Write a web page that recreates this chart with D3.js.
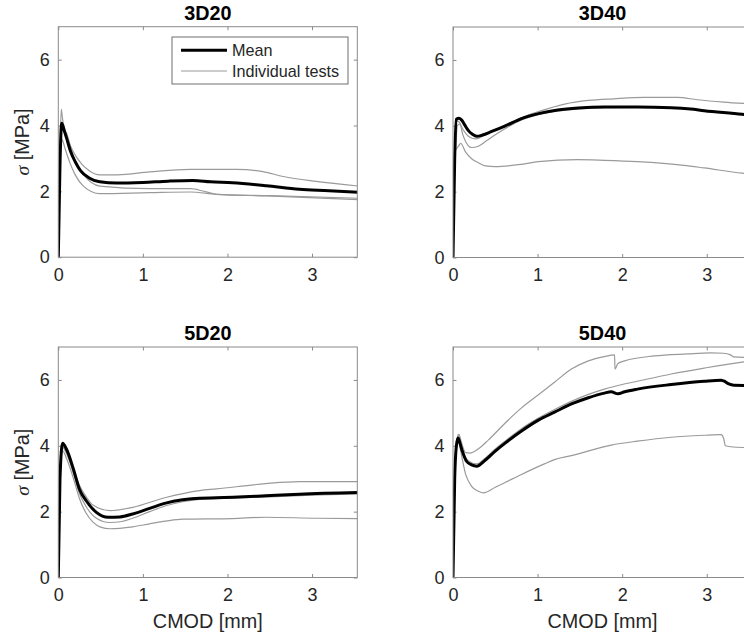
<!DOCTYPE html>
<html>
<head>
<meta charset="utf-8">
<script src="https://cdn.jsdelivr.net/npm/d3@7"></script>
<style>
  html, body { margin: 0; padding: 0; background: #fff; }
  svg { display: block; }
</style>
</head>
<body>
<script>
// ---------------- DATA ----------------
const PANEL_TITLES = ['3D20', '3D40', '5D20', '5D40'];
const X_TICKS = [0, 1, 2, 3];
const Y_TICKS = [0, 2, 4, 6];
const X_DOMAIN = [0, 3.535];
const Y_DOMAIN = [0, 7];
const LEGEND_LABELS = ['Mean', 'Individual tests'];
const X_LABEL = 'CMOD [mm]';
const Y_LABEL_SYMBOL = 'σ';
const Y_LABEL_UNIT = ' [MPa]';

// 3D20  [CMOD mm, sigma MPa]
const mean3D20 = [[0,0],[0.02,2.8],[0.04,4.07],[0.07,3.85],[0.1,3.6],[0.14,3.25],[0.2,2.9],[0.26,2.64],[0.37,2.4],[0.49,2.29],[0.69,2.25],[1.0,2.27],[1.3,2.31],[1.59,2.33],[1.8,2.29],[2.06,2.26],[2.46,2.17],[2.85,2.06],[3.2,2.02],[3.55,1.97]];
const test3D20a = [[0,0],[0.02,3.2],[0.035,4.5],[0.05,4.2],[0.08,3.85],[0.14,3.4],[0.2,3.1],[0.28,2.82],[0.37,2.62],[0.49,2.5],[0.7,2.5],[1.08,2.59],[1.56,2.67],[2.11,2.67],[2.42,2.6],[2.66,2.45],[3.05,2.3],[3.55,2.16]];
const test3D20b = [[0,0],[0.02,3.0],[0.045,3.9],[0.07,3.85],[0.1,3.75],[0.15,3.3],[0.2,2.9],[0.3,2.5],[0.49,2.16],[1.08,2.08],[1.56,2.08],[1.71,2.01],[1.87,1.91],[2.46,1.86],[3.55,1.75]];
const test3D20c = [[0,0],[0.02,3.0],[0.03,3.6],[0.05,3.55],[0.08,3.3],[0.14,2.85],[0.2,2.5],[0.3,2.15],[0.49,1.93],[1.08,1.96],[1.56,1.98],[1.87,1.91],[2.5,1.87],[3.55,1.79]];

// 3D40
const mean3D40 = [[0,0],[0.02,3.0],[0.04,4.2],[0.07,4.23],[0.1,4.18],[0.14,4.02],[0.18,3.86],[0.23,3.74],[0.28,3.68],[0.35,3.72],[0.45,3.82],[0.62,4.0],[0.81,4.22],[1.01,4.37],[1.24,4.48],[1.48,4.54],[1.79,4.57],[2.18,4.57],[2.58,4.55],[2.81,4.51],[2.97,4.46],[3.42,4.35],[3.55,4.31]];
const test3D40a = [[0,0],[0.02,3.0],[0.04,4.15],[0.07,4.12],[0.12,3.88],[0.2,3.65],[0.27,3.6],[0.4,3.76],[0.6,4.0],[0.81,4.25],[1.01,4.43],[1.32,4.66],[1.6,4.77],[1.9,4.82],[2.26,4.86],[2.65,4.86],[2.89,4.79],[3.2,4.72],[3.55,4.66]];
const test3D40b = [[0,0],[0.015,3.2],[0.03,3.3],[0.05,4.0],[0.08,4.05],[0.12,3.7],[0.18,3.4],[0.22,3.34],[0.3,3.38],[0.4,3.55],[0.5,3.73],[0.62,3.92],[0.81,4.18],[1.01,4.34],[1.24,4.45],[1.48,4.51],[1.79,4.55],[2.18,4.56],[2.58,4.54],[2.81,4.5],[2.97,4.45],[3.42,4.34],[3.55,4.3]];
const test3D40c = [[0,0],[0.02,3.2],[0.04,3.3],[0.07,3.4],[0.09,3.47],[0.15,3.2],[0.22,3.0],[0.3,2.88],[0.38,2.78],[0.5,2.76],[0.81,2.83],[1.01,2.91],[1.47,2.97],[1.79,2.95],[2.18,2.91],[2.73,2.8],[2.97,2.72],[3.42,2.56],[3.55,2.53]];

// 5D20
const mean5D20 = [[0,0],[0.02,3.0],[0.05,4.08],[0.1,3.88],[0.18,3.28],[0.25,2.68],[0.33,2.33],[0.45,1.98],[0.59,1.83],[0.73,1.84],[0.88,1.93],[1.08,2.1],[1.27,2.26],[1.47,2.36],[1.67,2.41],[1.87,2.42],[2.45,2.48],[2.85,2.53],[3.55,2.58]];
const test5D20a = [[0,0],[0.02,2.9],[0.05,3.95],[0.1,3.8],[0.18,3.3],[0.25,2.8],[0.33,2.45],[0.41,2.2],[0.61,2.03],[0.88,2.13],[1.27,2.43],[1.67,2.64],[1.87,2.69],[2.45,2.85],[2.85,2.91],[3.55,2.91]];
const test5D20b = [[0,0],[0.02,2.9],[0.05,3.95],[0.1,3.75],[0.18,3.15],[0.25,2.55],[0.33,2.15],[0.45,1.8],[0.61,1.67],[0.75,1.7],[0.88,1.8],[1.08,2.0],[1.27,2.18],[1.47,2.3],[1.67,2.37],[2.06,2.41],[2.5,2.45],[3.0,2.5],[3.55,2.54]];
const test5D20c = [[0,0],[0.02,2.9],[0.05,3.85],[0.1,3.6],[0.18,3.0],[0.25,2.4],[0.33,1.95],[0.41,1.68],[0.5,1.53],[0.61,1.48],[0.88,1.54],[1.08,1.63],[1.27,1.71],[1.47,1.77],[2.06,1.79],[2.45,1.83],[3.05,1.8],[3.55,1.79]];

// 5D40
const mean5D40 = [[0,0],[0.02,3.0],[0.04,4.0],[0.06,4.24],[0.08,4.1],[0.11,3.84],[0.16,3.53],[0.22,3.42],[0.28,3.38],[0.38,3.56],[0.5,3.84],[0.62,4.09],[0.81,4.45],[1.01,4.78],[1.2,5.02],[1.4,5.27],[1.6,5.46],[1.79,5.6],[1.87,5.64],[1.95,5.58],[2.03,5.64],[2.18,5.72],[2.58,5.86],[2.97,5.96],[3.17,5.99],[3.2,5.97],[3.26,5.88],[3.32,5.84],[3.55,5.83]];
const test5D40a = [[0,0],[0.02,3.0],[0.05,4.2],[0.07,4.35],[0.1,4.1],[0.15,3.79],[0.2,3.78],[0.3,3.91],[0.42,4.18],[0.62,4.7],[0.81,5.15],[1.01,5.55],[1.2,5.93],[1.4,6.33],[1.6,6.58],[1.79,6.71],[1.91,6.76],[1.915,6.33],[1.95,6.5],[2.03,6.58],[2.38,6.73],[2.77,6.79],[3.05,6.82],[3.2,6.81],[3.28,6.76],[3.32,6.7],[3.55,6.68]];
const test5D40b = [[0,0],[0.02,3.0],[0.04,4.0],[0.065,4.35],[0.09,4.1],[0.12,3.8],[0.18,3.55],[0.28,3.45],[0.38,3.62],[0.5,3.9],[0.62,4.15],[0.81,4.52],[1.01,4.84],[1.2,5.1],[1.4,5.35],[1.6,5.56],[1.79,5.72],[2.0,5.86],[2.18,5.96],[2.58,6.18],[2.97,6.36],[3.42,6.54],[3.55,6.58]];
const test5D40c = [[0,0],[0.02,3.0],[0.045,4.1],[0.06,4.2],[0.09,3.85],[0.15,3.13],[0.22,2.77],[0.3,2.62],[0.36,2.57],[0.5,2.74],[0.62,2.89],[0.81,3.13],[1.08,3.45],[1.2,3.58],[1.4,3.7],[1.87,4.02],[2.18,4.14],[2.58,4.26],[2.97,4.32],[3.17,4.34],[3.2,4.22],[3.22,4.0],[3.28,3.97],[3.55,3.94]];

const MEANS = [mean3D20, mean3D40, mean5D20, mean5D40];
const TESTS = [[test3D20a, test3D20b, test3D20c], [test3D40a, test3D40b, test3D40c], [test5D20a, test5D20b, test5D20c], [test5D40a, test5D40b, test5D40c]];

// ---------------- LAYOUT ----------------
const W = 744, H = 639;
const PANEL_W = 299, PANEL_H = 230.5;
const PANEL_POS = [
  { left: 58.3, top: 26.7, row: 0, col: 0 },
  { left: 453,  top: 27,   row: 0, col: 1 },
  { left: 58.3, top: 347,  row: 1, col: 0 },
  { left: 453,  top: 347,  row: 1, col: 1 }
];
const FONT = '"Liberation Sans", Arial, Helvetica, sans-serif';
const TEXT_COLOR = '#262626';
const AXIS_COLOR = '#8a8a8a';
const TEST_COLOR = '#9a9a9a';

const svg = d3.select('body').append('svg')
  .attr('width', W).attr('height', H)
  .attr('viewBox', `0 0 ${W} ${H}`);
svg.append('rect').attr('width', W).attr('height', H).attr('fill', '#fff');

const x = d3.scaleLinear().domain(X_DOMAIN).range([0, PANEL_W]);
const y = d3.scaleLinear().domain(Y_DOMAIN).range([PANEL_H, 0]);
const line = d3.line().x(d => x(d[0])).y(d => y(d[1])).curve(d3.curveMonotoneX);

PANEL_TITLES.forEach((title, i) => {
  const p = PANEL_POS[i];
  const g = svg.append('g').attr('transform', `translate(${p.left},${p.top})`);

  const clipId = 'clip' + i;
  g.append('clipPath').attr('id', clipId)
    .append('rect').attr('x', 0).attr('y', 0).attr('width', PANEL_W).attr('height', PANEL_H);

  // axes: bottom with labels, top/right without
  const styleAxis = sel => {
    sel.select('.domain').remove();
    sel.selectAll('.tick line').attr('stroke', AXIS_COLOR).attr('stroke-width', 1);
    sel.selectAll('.tick text').attr('fill', TEXT_COLOR)
      .style('font-family', FONT).style('font-size', '18px');
  };
  g.append('g').attr('transform', `translate(0,${PANEL_H})`)
    .call(d3.axisBottom(x).tickValues(X_TICKS).tickFormat(d3.format('d')).tickSize(-3.5).tickPadding(11))
    .call(styleAxis);
  g.append('g')
    .call(d3.axisTop(x).tickValues(X_TICKS).tickFormat('').tickSize(-3.5))
    .call(styleAxis);
  g.append('g')
    .call(d3.axisLeft(y).tickValues(Y_TICKS).tickFormat(d3.format('d')).tickSize(-3.5).tickPadding(8.5))
    .call(styleAxis);
  g.append('g').attr('transform', `translate(${PANEL_W},0)`)
    .call(d3.axisRight(y).tickValues(Y_TICKS).tickFormat('').tickSize(-3.5))
    .call(styleAxis);

  const plot = g.append('g').attr('clip-path', `url(#${clipId})`);
  TESTS[i].forEach(t => {
    plot.append('path').datum(t).attr('d', line)
      .attr('fill', 'none').attr('stroke', TEST_COLOR).attr('stroke-width', 1.2)
      .attr('stroke-linejoin', 'round');
  });
  plot.append('path').datum(MEANS[i]).attr('d', line)
    .attr('fill', 'none').attr('stroke', '#000').attr('stroke-width', 3)
    .attr('stroke-linejoin', 'round');

  // box
  g.append('rect').attr('x', 0).attr('y', 0).attr('width', PANEL_W).attr('height', PANEL_H)
    .attr('fill', 'none').attr('stroke', AXIS_COLOR).attr('stroke-width', 1);

  // title
  g.append('text').attr('x', PANEL_W / 2).attr('y', -6.7)
    .attr('text-anchor', 'middle').attr('fill', '#000')
    .style('font-family', FONT).style('font-size', '19.8px').style('font-weight', 'bold')
    .text(title);

  if (p.col === 0) {
    const t = g.append('text')
      .attr('transform', `translate(${29 - p.left},${PANEL_H / 2}) rotate(-90)`)
      .attr('text-anchor', 'middle').attr('fill', TEXT_COLOR)
      .style('font-family', FONT).style('font-size', '19.8px');
    t.append('tspan').style('font-family', '"Liberation Serif", "DejaVu Serif", serif')
      .style('font-style', 'italic').text(Y_LABEL_SYMBOL);
    t.append('tspan').text(Y_LABEL_UNIT);
  }
  if (p.row === 1) {
    g.append('text').attr('x', PANEL_W / 2).attr('y', 628 - p.top)
      .attr('text-anchor', 'middle').attr('fill', TEXT_COLOR)
      .style('font-family', FONT).style('font-size', '19.8px')
      .text(X_LABEL);
  }

  if (i === 0) {
    const lg = g.append('g').attr('transform', `translate(${172 - p.left},${37 - p.top})`);
    lg.append('rect').attr('width', 176).attr('height', 47)
      .attr('fill', '#fff').attr('stroke', '#6e6e6e').attr('stroke-width', 1);
    const rows = [{ color: '#000', w: 3, yy: 13.3 }, { color: TEST_COLOR, w: 1.2, yy: 34 }];
    LEGEND_LABELS.forEach((lab, k) => {
      lg.append('line').attr('x1', 9).attr('x2', 55).attr('y1', rows[k].yy).attr('y2', rows[k].yy)
        .attr('stroke', rows[k].color).attr('stroke-width', rows[k].w);
      lg.append('text').attr('x', 60).attr('y', rows[k].yy + 6)
        .attr('fill', TEXT_COLOR)
        .style('font-family', FONT).style('font-size', '16.2px')
        .text(lab);
    });
  }
});
</script>
</body>
</html>
